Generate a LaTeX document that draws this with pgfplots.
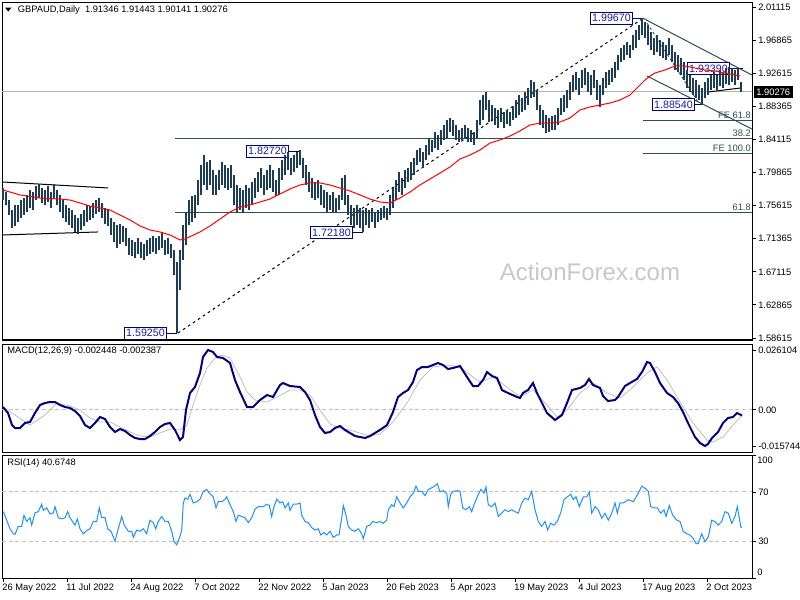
\documentclass[border=0pt]{standalone}
\usepackage{pgfplots}
\pgfplotsset{compat=1.18}
\usepackage{pgfplotstable}
\usepackage{fontspec}
\setmainfont{Liberation Sans}
\definecolor{barcol}{RGB}{28,60,88}
\definecolor{slate}{RGB}{47,79,79}
\definecolor{lblnavy}{RGB}{0,0,128}
\definecolor{lbltext}{RGB}{30,30,160}
\definecolor{rsiblue}{RGB}{30,144,255}
\definecolor{sig}{RGB}{192,192,192}
\definecolor{wm}{RGB}{200,200,200}
\definecolor{cur}{RGB}{180,180,180}

\pgfplotstableread{
x h l
3 1.7788 1.7633
6 1.7736 1.7569
9 1.7633 1.7441
12 1.7505 1.7274
15 1.7569 1.7300
18 1.7569 1.7351
21 1.7633 1.7402
24 1.7659 1.7441
27 1.7698 1.7479
30 1.7762 1.7531
33 1.7736 1.7505
36 1.7813 1.7633
39 1.7839 1.7659
42 1.7788 1.7595
45 1.7762 1.7569
48 1.7813 1.7608
51 1.7736 1.7531
54 1.7839 1.7659
57 1.7762 1.7569
60 1.7698 1.7479
63 1.7633 1.7402
66 1.7569 1.7351
69 1.7531 1.7312
72 1.7505 1.7274
75 1.7441 1.7223
78 1.7402 1.7197
81 1.7454 1.7248
84 1.7505 1.7300
87 1.7569 1.7351
90 1.7556 1.7377
93 1.7595 1.7402
96 1.7633 1.7454
99 1.7659 1.7479
102 1.7595 1.7402
105 1.7531 1.7325
108 1.7505 1.7300
111 1.7402 1.7184
114 1.7351 1.7094
117 1.7312 1.7017
120 1.7325 1.7069
123 1.7300 1.7094
126 1.7274 1.7043
129 1.7146 1.6927
132 1.7120 1.6914
135 1.7094 1.6889
138 1.7146 1.6940
141 1.7094 1.6889
144 1.7069 1.6863
147 1.7120 1.6914
150 1.7146 1.6940
153 1.7171 1.6966
156 1.7146 1.6940
159 1.7171 1.6991
162 1.7223 1.7017
165 1.7120 1.6927
168 1.7146 1.6940
171 1.7069 1.6889
174 1.6991 1.6670
177 1.6837 1.5925
180 1.6991 1.6478
183 1.7312 1.6863
186 1.7479 1.7056
189 1.7633 1.7312
192 1.7685 1.7351
195 1.7698 1.7402
198 1.7890 1.7569
201 1.8083 1.7698
204 1.8211 1.7826
207 1.8121 1.7762
210 1.8147 1.7826
213 1.8019 1.7698
216 1.7954 1.7698
219 1.8019 1.7762
222 1.8121 1.7826
225 1.8083 1.7788
228 1.8044 1.7762
231 1.8083 1.7788
234 1.7954 1.7569
237 1.7826 1.7479
240 1.7788 1.7505
243 1.7762 1.7466
246 1.7826 1.7531
249 1.7788 1.7505
252 1.7865 1.7569
255 1.7916 1.7659
258 1.7993 1.7736
261 1.8044 1.7788
264 1.7954 1.7698
267 1.8019 1.7762
270 1.8083 1.7788
273 1.8019 1.7736
276 1.7890 1.7685
279 1.8044 1.7698
282 1.8147 1.7890
285 1.8211 1.7954
288 1.8250 1.8019
291 1.8173 1.7954
294 1.8211 1.7993
297 1.8250 1.8044
300 1.8272 1.8083
303 1.8173 1.7916
306 1.8083 1.7826
309 1.7993 1.7736
312 1.7916 1.7659
315 1.7865 1.7633
318 1.7890 1.7659
321 1.7826 1.7569
324 1.7762 1.7531
327 1.7736 1.7479
330 1.7698 1.7505
333 1.7736 1.7479
336 1.7659 1.7466
339 1.7698 1.7505
342 1.7916 1.7633
345 1.7954 1.7569
348 1.7698 1.7441
351 1.7569 1.7312
354 1.7531 1.7274
357 1.7569 1.7312
360 1.7531 1.7274
363 1.7505 1.7218
366 1.7531 1.7312
369 1.7505 1.7274
372 1.7531 1.7351
375 1.7479 1.7274
378 1.7505 1.7351
381 1.7531 1.7377
384 1.7556 1.7402
387 1.7531 1.7377
390 1.7698 1.7441
393 1.7788 1.7531
396 1.7890 1.7633
399 1.7993 1.7736
402 1.7916 1.7698
405 1.8019 1.7788
408 1.8044 1.7865
411 1.8121 1.7890
414 1.8173 1.7954
417 1.8275 1.8083
420 1.8301 1.8121
423 1.8250 1.8044
426 1.8340 1.8147
429 1.8430 1.8211
432 1.8404 1.8250
435 1.8507 1.8301
438 1.8468 1.8275
441 1.8532 1.8340
444 1.8596 1.8404
447 1.8661 1.8430
450 1.8686 1.8507
453 1.8661 1.8455
456 1.8596 1.8404
459 1.8532 1.8378
462 1.8558 1.8404
465 1.8596 1.8430
468 1.8558 1.8378
471 1.8532 1.8378
474 1.8507 1.8340
477 1.8661 1.8430
480 1.8917 1.8596
483 1.8982 1.8661
486 1.9020 1.8789
489 1.8917 1.8635
492 1.8853 1.8661
495 1.8815 1.8596
498 1.8789 1.8558
501 1.8815 1.8635
504 1.8763 1.8558
507 1.8789 1.8609
510 1.8763 1.8584
513 1.8840 1.8661
516 1.8917 1.8686
519 1.8982 1.8725
522 1.8943 1.8763
525 1.9020 1.8789
528 1.9072 1.8853
531 1.9174 1.8943
534 1.9148 1.8956
537 1.9046 1.8789
540 1.8853 1.8596
543 1.8789 1.8558
546 1.8725 1.8494
549 1.8686 1.8507
552 1.8712 1.8532
555 1.8725 1.8532
558 1.8815 1.8596
561 1.8943 1.8725
564 1.8982 1.8763
567 1.9046 1.8815
570 1.9148 1.8917
573 1.9238 1.9020
576 1.9277 1.9046
579 1.9200 1.8982
582 1.9303 1.9072
585 1.9328 1.9110
588 1.9277 1.9020
591 1.9238 1.8982
594 1.9303 1.9072
597 1.9174 1.8917
600 1.9110 1.8828
603 1.9200 1.8982
606 1.9277 1.9072
609 1.9303 1.9110
612 1.9328 1.9148
615 1.9405 1.9200
618 1.9495 1.9303
621 1.9585 1.9405
624 1.9624 1.9431
627 1.9662 1.9495
630 1.9624 1.9457
633 1.9752 1.9559
636 1.9816 1.9585
639 1.9880 1.9688
642 1.9967 1.9752
645 1.9919 1.9714
648 1.9880 1.9624
651 1.9790 1.9559
654 1.9714 1.9495
657 1.9752 1.9534
660 1.9688 1.9482
663 1.9662 1.9457
666 1.9624 1.9431
669 1.9714 1.9495
672 1.9624 1.9405
675 1.9534 1.9303
678 1.9495 1.9277
681 1.9457 1.9238
684 1.9405 1.9174
687 1.9303 1.9072
690 1.9238 1.9020
693 1.9200 1.8982
696 1.9174 1.8943
699 1.9110 1.8917
702 1.9072 1.8854
705 1.9148 1.8943
708 1.9200 1.8982
711 1.9238 1.9046
714 1.9277 1.9072
717 1.9238 1.9046
720 1.9303 1.9097
723 1.9277 1.9072
726 1.9328 1.9123
729 1.9339 1.9110
732 1.9328 1.9148
735 1.9303 1.9110
738 1.9328 1.9174
741 1.9144 1.9014
}\bars

\pgfplotstableread{
x y
3 1.7762
20 1.7698
40 1.7659
60 1.7646
70 1.7633
80 1.7595
90 1.7556
100 1.7531
110 1.7505
120 1.7441
130 1.7377
140 1.7300
150 1.7248
160 1.7223
170 1.7184
180 1.7120
185 1.7133
200 1.7223
210 1.7300
220 1.7389
230 1.7479
240 1.7543
250 1.7569
260 1.7608
270 1.7646
280 1.7710
290 1.7775
300 1.7826
310 1.7852
320 1.7852
330 1.7826
340 1.7788
350 1.7749
360 1.7698
370 1.7646
380 1.7608
390 1.7595
400 1.7659
410 1.7736
420 1.7826
430 1.7903
440 1.7980
450 1.8057
460 1.8160
470 1.8211
480 1.8275
490 1.8365
500 1.8404
510 1.8455
520 1.8520
530 1.8596
540 1.8622
550 1.8622
560 1.8635
570 1.8686
580 1.8789
590 1.8828
600 1.8853
610 1.8879
620 1.8917
630 1.8982
640 1.9110
645 1.9174
650 1.9225
655 1.9264
665 1.9303
675 1.9354
685 1.9354
695 1.9328
705 1.9303
715 1.9290
725 1.9264
740 1.9226
}\ma

\pgfplotstableread{
x y
3 0.00125
8 -0.00136
12 -0.00660
15 -0.00790
20 -0.00790
25 -0.00572
30 -0.00529
35 -0.00136
40 0.00212
45 0.00300
50 0.00343
55 0.00343
60 0.00212
65 0.00125
70 0.00082
75 -0.00049
80 -0.00267
85 -0.00660
90 -0.00790
95 -0.00572
100 -0.00311
105 -0.00398
110 -0.00747
115 -0.00965
120 -0.00834
125 -0.00921
130 -0.01095
135 -0.01226
140 -0.01270
145 -0.01270
150 -0.01139
155 -0.00965
160 -0.00747
165 -0.00616
170 -0.00572
175 -0.00877
180 -0.01314
183 -0.01183
186 -0.00006
190 0.00736
195 0.00997
200 0.01608
203 0.02305
208 0.02610
213 0.02523
217 0.02305
223 0.02262
230 0.02043
235 0.01302
240 0.00779
247 0.00125
253 0.00125
260 0.00430
267 0.00648
273 0.00561
280 0.01084
283 0.01172
290 0.01041
300 0.00997
305 0.00779
310 0.00430
315 -0.00224
320 -0.00747
325 -0.01008
330 -0.00965
335 -0.00790
340 -0.00703
345 -0.00877
350 -0.01008
355 -0.01139
360 -0.01183
365 -0.01226
370 -0.01139
375 -0.01008
380 -0.00877
387 -0.00660
393 -0.00093
398 0.00561
403 0.00736
408 0.00866
413 0.01215
417 0.01738
422 0.01869
428 0.01869
433 0.01956
438 0.02043
443 0.01956
448 0.01782
453 0.01825
460 0.01913
467 0.01433
473 0.01041
478 0.01041
483 0.01302
487 0.01651
492 0.01477
497 0.01390
502 0.00866
508 0.00736
517 0.00561
520 0.00518
523 0.00736
528 0.00866
533 0.01172
537 0.00736
542 0.00300
547 -0.00136
555 -0.00442
562 -0.00224
567 0.00300
572 0.00866
580 0.00954
585 0.01084
589 0.01346
593 0.01084
600 0.00954
603 0.00605
608 0.00387
615 0.00430
618 0.00561
625 0.01041
630 0.01172
637 0.01346
642 0.01651
647 0.02087
650 0.02043
655 0.01651
660 0.01172
667 0.00736
673 0.00561
678 0.00300
683 -0.00093
688 -0.00572
695 -0.01183
700 -0.01444
705 -0.01575
708 -0.01488
712 -0.01226
718 -0.00965
723 -0.00572
728 -0.00354
733 -0.00311
737 -0.00136
742 -0.00245
}\macd

\pgfplotstableread{
x y
3 0.00125
15 -0.00224
30 -0.00660
45 -0.00224
57 0.00300
70 0.00169
80 -0.00006
90 -0.00354
100 -0.00529
110 -0.00529
120 -0.00747
130 -0.00965
140 -0.01139
150 -0.01183
160 -0.01008
170 -0.00834
180 -0.00877
187 -0.00660
193 0.00212
200 0.01084
207 0.01825
215 0.02262
222 0.02392
230 0.02262
240 0.01433
247 0.00779
255 0.00430
267 0.00343
277 0.00561
290 0.00866
300 0.00866
310 0.00648
320 -0.00006
330 -0.00616
340 -0.00790
350 -0.00877
360 -0.01008
370 -0.01139
380 -0.01052
393 -0.00529
407 0.00300
420 0.01302
433 0.01869
447 0.01956
460 0.01869
473 0.01433
480 0.01215
493 0.01433
507 0.00997
520 0.00561
533 0.00866
547 0.00212
557 -0.00311
567 -0.00006
580 0.00736
593 0.01172
607 0.00736
620 0.00518
633 0.00997
647 0.01608
657 0.01869
667 0.01302
680 0.00343
693 -0.00572
707 -0.01314
713 -0.01401
723 -0.01183
733 -0.00660
742 -0.00239
}\signal

\pgfplotstableread{
x y
3.3 54
6.7 47
10 40
13.3 36
15 35.5
18.3 42
21.7 42
24 51
26.7 46
30 49
31.7 43
35 53
38.3 54
41.7 60
43.3 55
46.7 57
50 52
53.3 53
55 58
58.3 49
61.7 48
65 49
67.7 54
70 49
75 43
77.3 48
80 40
83.3 36
87.3 39
90 40
93.3 46
96.7 46
99.3 57
101.7 49
105 49
107.7 40
111 38
115 30
118.3 40
121.7 50
124.3 43
128.3 38
131.7 38
133.3 33
136.7 39
140 38
143.3 40
146.7 36
150 47
153.3 45
155.7 40
158.3 46
161.7 50
165 46
168.3 46
171.7 38
174 29.5
176.7 27
180 34
181.7 39
183.3 61
185 65
187.7 64
190 68
193.3 61
196.7 62
200 64
203.3 70.5
206.7 72
209.3 69
213.3 66
216 57
218.3 62
221.7 62
225 64
226.7 66
229.3 61
233.3 54
236 46
238.3 51
241.7 50
245 49
248.3 45
251.7 49
255 56
258.3 58
263.3 58
266.7 60
269.3 59
271.7 50
274 58
276.7 64
280 61
282.7 62
285 57
288.3 61
290 55
293.3 60
296.7 60
300 61
301.7 51
305 46
308.3 45
311.7 41
315 39
318.3 40
320.7 35
324 37
326.7 35
330 38
333.3 33
336.7 35
339 35
341.7 49
343.3 59
346 51
348.3 42
351.7 39
355 38
358.3 40
361.7 36
363.3 32
366.7 42
370 43
372.7 46
376.7 45
380 46
383.3 44.5
386.7 47
388.3 55.5
391.7 59.6
394 58
396.7 66
400 61
403.3 57
406.7 61
410 66
413.3 69
416 74.7
418.3 70.5
421.7 70.5
425 67
428.3 72
433.3 74
437.3 76.6
440 70
443.3 71
446.7 69
448.3 58
450.7 68
453.3 70.5
457.3 71
460 70.5
462.7 57
466 55.5
469.3 58
471.7 54
474 59.6
477.3 66
480.7 72
484 69
486 74
488.3 59.6
491.7 58
495 61
498.3 50
501.7 52.7
505 55.5
508.3 54
511.7 55.5
515 54
518.3 52.7
521.7 61
525 65
528.3 63.7
531.7 70.5
535 55.5
538.3 46
541.7 42
545 46
547.7 39
550.7 44.5
554 43
557.3 46
560.7 53
564 63.7
567.3 66
570.7 68
573.3 63.7
576 66
579.3 58
583.3 66
586.7 66
589.3 70
591.7 52.7
595 58
598.3 55.5
601.7 48.6
605 52.7
608.3 47
611.7 52.7
615 61
617.3 52.7
620 61
623.3 61
628.3 63.7
633.3 62
638.3 69
641.7 74.7
645 73
648.3 70.5
650.7 58
654 57
657.3 57
660.7 52.7
664 55.5
666 50
669.3 59
672.7 51
676.7 47
680 46
683.3 37.7
686.7 36
690 35
693.3 32
696 28
698.3 28
701.7 36
705 29.5
708.3 33.5
711.7 47
715 45.8
718.3 43
721.7 46
725 54
728.3 52.7
731.7 44.5
735 50
737.3 58
740.7 42
741.7 40.7
}\rsi

\pgfplotsset{
  mt4/.style={
    scale only axis, anchor=north west, width=562.5pt,
    xmin=2, xmax=752,
    axis line style={black, line width=0.75pt},
    tick style={black, line width=0.6pt},
    tick align=outside, major tick length=3pt,
    ytick pos=right, yticklabel pos=right,
    scaled y ticks=false, scaled x ticks=false,
    ticklabel style={font=\fontsize{7}{8}\selectfont},
    yticklabel style={anchor=west, inner sep=0pt, xshift=1.5pt},
    clip mode=individual,
  }
}

\begin{document}
\begin{tikzpicture}
\useasboundingbox[fill=white] (0,0) rectangle (600pt,-450pt);

% ---------------- price panel
\begin{axis}[mt4, at={(1.5pt,-1.5pt)}, height=253.5pt,
  ymin=1.58358, ymax=2.01757, xtick=\empty,
  ytick={2.01115,1.96865,1.92615,1.88365,1.84115,1.79865,1.75615,1.71365,1.67115,1.62865,1.58615},
  yticklabels={2.01115,1.96865,1.92615,1.88365,1.84115,1.79865,1.75615,1.71365,1.67115,1.62865,1.58615}]
  % current price line
  \draw[cur, line width=0.75pt] (axis cs:2,1.90276) -- (axis cs:752,1.90276);
  % retracement / projection lines
  \draw[slate, line width=0.75pt] (axis cs:175,1.74690) -- (axis cs:752,1.74690);
  \draw[slate, line width=0.75pt] (axis cs:175,1.84229) -- (axis cs:752,1.84229);
  \draw[slate, line width=0.75pt] (axis cs:643,1.86512) -- (axis cs:752,1.86512);
  \draw[slate, line width=0.75pt] (axis cs:643,1.82260) -- (axis cs:752,1.82260);
  % channels
  \draw[black, line width=0.75pt] (axis cs:2,1.7865) -- (axis cs:108,1.7788);
  \draw[black, line width=0.75pt] (axis cs:2,1.7184) -- (axis cs:98,1.7223);
  \draw[slate, line width=0.75pt] (axis cs:643,1.9967) -- (axis cs:752,1.9238);
  \draw[slate, line width=0.75pt] (axis cs:647,1.9225) -- (axis cs:752,1.8545);
  \draw[black, line width=0.75pt, dash pattern=on 2pt off 2.5pt] (axis cs:178,1.5925) -- (axis cs:643,1.9967);
  \draw[slate, line width=0.6pt, dash pattern=on 2pt off 2pt] (axis cs:647,1.9906) -- (axis cs:698,1.8892);
  \draw[black, line width=0.75pt] (axis cs:708,1.9020) -- (axis cs:741,1.9072);
  \draw[black, line width=0.75pt] (axis cs:730,1.9328) -- (axis cs:743,1.9328);
  % label boxes
  \tikzset{lbl/.style={draw=lblnavy, line width=0.75pt, fill=white, text=lbltext,
     font=\fontsize{8}{9}\selectfont, inner xsep=1.3pt, inner ysep=0pt, minimum height=9pt}}
  \draw[lblnavy, line width=0.75pt] (axis cs:632,1.9967) -- (axis cs:643,1.9967);
  \node[lbl, anchor=east] at (axis cs:633,1.9967) {1.99670};
  \draw[lblnavy, line width=0.75pt] (axis cs:729,1.9328) -- (axis cs:742,1.9328);
  \node[lbl, anchor=east] at (axis cs:730,1.9322) {1.93390};
  \draw[lblnavy, line width=0.75pt] (axis cs:694,1.8854) -- (axis cs:703,1.8854);
  \node[lbl, anchor=east] at (axis cs:695,1.8854) {1.88540};
  \draw[lblnavy, line width=0.75pt] (axis cs:287,1.8262) -- (axis cs:300,1.8262);
  \node[lbl, anchor=east] at (axis cs:289,1.8262) {1.82720};
  \draw[lblnavy, line width=0.75pt] (axis cs:352,1.7218) -- (axis cs:363,1.7218);
  \node[lbl, anchor=east] at (axis cs:353,1.7218) {1.72180};
  \draw[lblnavy, line width=0.75pt] (axis cs:166,1.5925) -- (axis cs:177,1.5925);
  \node[lbl, anchor=east] at (axis cs:167,1.5925) {1.59250};
  % OHLC bars (high-low)
  \addplot[draw=none, no markers,
     error bars/.cd, y dir=plus, y explicit, error mark=none,
     error bar style={draw=barcol, line width=0.8pt, solid}]
     table[x=x, y=l, y error expr=\thisrow{h}-\thisrow{l}] {\bars};
  % moving average
  \addplot[red, line width=0.75pt, mark=none] table[x=x,y=y] {\ma};
\end{axis}

% ---------------- MACD panel
\begin{axis}[mt4, at={(1.5pt,-258pt)}, height=81pt,
  ymin=-0.018360, ymax=0.028720, xtick=\empty,
  ytick={-0.015744,0,0.026104},
  yticklabels={-0.015744,0.00,0.026104}]
  \draw[sig, line width=0.75pt, dash pattern=on 3pt off 2pt] (axis cs:2,0) -- (axis cs:752,0);
  \addplot[sig, line width=0.6pt, mark=none] table[x=x,y=y] {\signal};
  \addplot[lblnavy, line width=1.5pt, mark=none] table[x=x,y=y] {\macd};
\end{axis}

% ---------------- RSI panel
\begin{axis}[mt4, at={(1.5pt,-341.25pt)}, height=92.25pt,
  ymin=0, ymax=100,
  ytick={0,30,70,100}, yticklabels={,30,70,},
  xtick={3,67,131,195,259,323,387,451,515,579,643,707},
  xticklabels={26 May 2022,11 Jul 2022,24 Aug 2022,7 Oct 2022,22 Nov 2022,5 Jan 2023,20 Feb 2023,5 Apr 2023,19 May 2023,4 Jul 2023,17 Aug 2023,2 Oct 2023},
  xtick pos=left,
  xticklabel style={anchor=north west, inner sep=0pt, xshift=-0.6pt, yshift=-1pt}]
  \draw[sig, line width=0.75pt, dash pattern=on 3pt off 2pt] (axis cs:2,70) -- (axis cs:752,70);
  \draw[sig, line width=0.75pt, dash pattern=on 3pt off 2pt] (axis cs:2,30) -- (axis cs:752,30);
  \addplot[rsiblue, line width=0.75pt, mark=none] table[x=x,y=y] {\rsi};
\end{axis}

% ---------------- texts
\begin{scope}[x=0.75pt, y=-0.75pt, font=\fontsize{7}{8}\selectfont]
  \fill[black] (5,7.5) -- (11.5,7.5) -- (8.25,11.5) -- cycle;
  \node[anchor=west, inner sep=0pt] at (17.5,10) {GBPAUD,Daily\ \ 1.91346 1.91443 1.90141 1.90276};
  \node[anchor=west, inner sep=0pt] at (7,351.5) {MACD(12,26,9) -0.002448 -0.002387};
  \node[anchor=west, inner sep=0pt] at (7,463.5) {RSI(14) 40.6748};
  \node[anchor=west, inner sep=0pt] at (757,460) {100};
  \node[anchor=west, inner sep=0pt] at (757,572) {0};
  \node[anchor=west, fill=black, text=white, inner xsep=2pt, inner ysep=0pt, minimum height=8.5pt] at (753.5,92) {1.90276};
  \node[anchor=east, inner sep=0pt, text=slate] at (751,115) {FE 61.8};
  \node[anchor=east, inner sep=0pt, text=slate] at (751,133.5) {38.2};
  \node[anchor=east, inner sep=0pt, text=slate] at (751,148) {FE 100.0};
  \node[anchor=east, inner sep=0pt, text=slate] at (751,207) {61.8};
  \node[text=wm, font=\fontsize{18}{20}\selectfont, inner sep=0pt] at (590,272) {ActionForex.com};
\end{scope}
\end{tikzpicture}
\end{document}
